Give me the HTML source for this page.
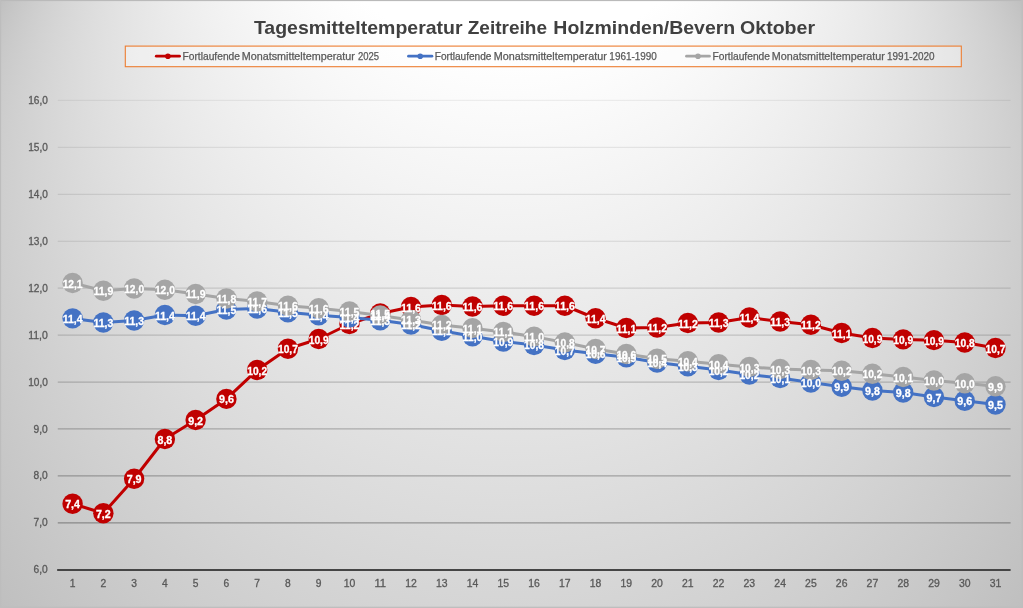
<!DOCTYPE html>
<html lang="de"><head><meta charset="utf-8"><title>Tagesmitteltemperatur Zeitreihe Holzminden/Bevern Oktober</title>
<style>html,body{margin:0;padding:0;background:#d9d9d9;overflow:hidden}svg{display:block}text{font-family:"Liberation Sans",sans-serif}.ax{font-size:10.2px;fill:#595959;stroke:#595959;stroke-width:0.3px}.dl{font-size:10.3px;font-weight:bold;fill:#fff;stroke:#fff;stroke-width:0.3px;text-anchor:middle}.lg{font-size:10px;fill:#595959;stroke:#595959;stroke-width:0.25px}</style></head><body>
<svg width="1023" height="608" viewBox="0 0 1023 608">
<defs>
<radialGradient id="bgf" gradientUnits="objectBoundingBox" cx="0.5" cy="0.5" r="0.7071" fx="0.5" fy="0.0"><stop offset="0" stop-color="#ffffff"/><stop offset="0.2" stop-color="#fbfbfb"/><stop offset="0.45" stop-color="#eeeeee"/><stop offset="0.7" stop-color="#dadada"/><stop offset="1" stop-color="#bfbfbf"/></radialGradient>
<radialGradient id="bg" gradientUnits="userSpaceOnUse" cx="511.5" cy="-486.4" r="0.001" fx="511.5" fy="304" fr="595"><stop offset="0" stop-color="#bfbfbf"/><stop offset="0.61" stop-color="#ffffff"/><stop offset="1" stop-color="#ffffff"/></radialGradient>
<filter id="aa" filterUnits="userSpaceOnUse" x="0" y="0" width="1023" height="608" color-interpolation-filters="sRGB"><feOffset dx="0" dy="0"/></filter>
</defs>
<rect x="0" y="0" width="1023" height="608" fill="url(#bgf)"/>
<rect x="0" y="0" width="1023" height="608" fill="url(#bg)"/>
<rect x="0" y="0" width="1023" height="1.1" fill="#bababa"/><rect x="0" y="0" width="1.1" height="608" fill="#bdbdbd"/><rect x="1021.4" y="0" width="1.6" height="608" fill="#bebebe"/><rect x="0" y="606.7" width="1023" height="1.3" fill="#bebebe"/>
<g filter="url(#aa)">
<line x1="57.75" y1="100.45" x2="1010.60" y2="100.45" stroke="#000" stroke-opacity="0.060" stroke-width="1.2"/>
<line x1="57.75" y1="147.38" x2="1010.60" y2="147.38" stroke="#000" stroke-opacity="0.075" stroke-width="1.2"/>
<line x1="57.75" y1="194.31" x2="1010.60" y2="194.31" stroke="#000" stroke-opacity="0.090" stroke-width="1.2"/>
<line x1="57.75" y1="241.24" x2="1010.60" y2="241.24" stroke="#000" stroke-opacity="0.110" stroke-width="1.2"/>
<line x1="57.75" y1="288.17" x2="1010.60" y2="288.17" stroke="#000" stroke-opacity="0.130" stroke-width="1.2"/>
<line x1="57.75" y1="335.10" x2="1010.60" y2="335.10" stroke="#000" stroke-opacity="0.160" stroke-width="1.2"/>
<line x1="57.75" y1="382.03" x2="1010.60" y2="382.03" stroke="#000" stroke-opacity="0.195" stroke-width="1.2"/>
<line x1="57.75" y1="428.96" x2="1010.60" y2="428.96" stroke="#000" stroke-opacity="0.235" stroke-width="1.2"/>
<line x1="57.75" y1="475.89" x2="1010.60" y2="475.89" stroke="#000" stroke-opacity="0.280" stroke-width="1.2"/>
<line x1="57.75" y1="522.82" x2="1010.60" y2="522.82" stroke="#000" stroke-opacity="0.325" stroke-width="1.2"/>
<line x1="57.15" y1="569.90" x2="1010.60" y2="569.90" stroke="#454545" stroke-width="2.0"/>
<text class="ax" x="47.8" y="104.05" text-anchor="end" textLength="19.60" lengthAdjust="spacingAndGlyphs">16,0</text>
<text class="ax" x="47.8" y="150.98" text-anchor="end" textLength="19.60" lengthAdjust="spacingAndGlyphs">15,0</text>
<text class="ax" x="47.8" y="197.91" text-anchor="end" textLength="19.60" lengthAdjust="spacingAndGlyphs">14,0</text>
<text class="ax" x="47.8" y="244.84" text-anchor="end" textLength="19.60" lengthAdjust="spacingAndGlyphs">13,0</text>
<text class="ax" x="47.8" y="291.77" text-anchor="end" textLength="19.60" lengthAdjust="spacingAndGlyphs">12,0</text>
<text class="ax" x="47.8" y="338.70" text-anchor="end" textLength="19.60" lengthAdjust="spacingAndGlyphs">11,0</text>
<text class="ax" x="47.8" y="385.63" text-anchor="end" textLength="19.60" lengthAdjust="spacingAndGlyphs">10,0</text>
<text class="ax" x="47.8" y="432.56" text-anchor="end" textLength="14.20" lengthAdjust="spacingAndGlyphs">9,0</text>
<text class="ax" x="47.8" y="479.49" text-anchor="end" textLength="14.20" lengthAdjust="spacingAndGlyphs">8,0</text>
<text class="ax" x="47.8" y="526.42" text-anchor="end" textLength="14.20" lengthAdjust="spacingAndGlyphs">7,0</text>
<text class="ax" x="47.8" y="573.35" text-anchor="end" textLength="14.20" lengthAdjust="spacingAndGlyphs">6,0</text>
<text class="ax" x="72.60" y="587.2" text-anchor="middle" textLength="5.70" lengthAdjust="spacingAndGlyphs">1</text>
<text class="ax" x="103.36" y="587.2" text-anchor="middle" textLength="5.70" lengthAdjust="spacingAndGlyphs">2</text>
<text class="ax" x="134.13" y="587.2" text-anchor="middle" textLength="5.70" lengthAdjust="spacingAndGlyphs">3</text>
<text class="ax" x="164.89" y="587.2" text-anchor="middle" textLength="5.70" lengthAdjust="spacingAndGlyphs">4</text>
<text class="ax" x="195.65" y="587.2" text-anchor="middle" textLength="5.70" lengthAdjust="spacingAndGlyphs">5</text>
<text class="ax" x="226.41" y="587.2" text-anchor="middle" textLength="5.70" lengthAdjust="spacingAndGlyphs">6</text>
<text class="ax" x="257.18" y="587.2" text-anchor="middle" textLength="5.70" lengthAdjust="spacingAndGlyphs">7</text>
<text class="ax" x="287.94" y="587.2" text-anchor="middle" textLength="5.70" lengthAdjust="spacingAndGlyphs">8</text>
<text class="ax" x="318.70" y="587.2" text-anchor="middle" textLength="5.70" lengthAdjust="spacingAndGlyphs">9</text>
<text class="ax" x="349.47" y="587.2" text-anchor="middle" textLength="11.60" lengthAdjust="spacingAndGlyphs">10</text>
<text class="ax" x="380.23" y="587.2" text-anchor="middle" textLength="11.60" lengthAdjust="spacingAndGlyphs">11</text>
<text class="ax" x="410.99" y="587.2" text-anchor="middle" textLength="11.60" lengthAdjust="spacingAndGlyphs">12</text>
<text class="ax" x="441.76" y="587.2" text-anchor="middle" textLength="11.60" lengthAdjust="spacingAndGlyphs">13</text>
<text class="ax" x="472.52" y="587.2" text-anchor="middle" textLength="11.60" lengthAdjust="spacingAndGlyphs">14</text>
<text class="ax" x="503.28" y="587.2" text-anchor="middle" textLength="11.60" lengthAdjust="spacingAndGlyphs">15</text>
<text class="ax" x="534.05" y="587.2" text-anchor="middle" textLength="11.60" lengthAdjust="spacingAndGlyphs">16</text>
<text class="ax" x="564.81" y="587.2" text-anchor="middle" textLength="11.60" lengthAdjust="spacingAndGlyphs">17</text>
<text class="ax" x="595.57" y="587.2" text-anchor="middle" textLength="11.60" lengthAdjust="spacingAndGlyphs">18</text>
<text class="ax" x="626.33" y="587.2" text-anchor="middle" textLength="11.60" lengthAdjust="spacingAndGlyphs">19</text>
<text class="ax" x="657.10" y="587.2" text-anchor="middle" textLength="11.60" lengthAdjust="spacingAndGlyphs">20</text>
<text class="ax" x="687.86" y="587.2" text-anchor="middle" textLength="11.60" lengthAdjust="spacingAndGlyphs">21</text>
<text class="ax" x="718.62" y="587.2" text-anchor="middle" textLength="11.60" lengthAdjust="spacingAndGlyphs">22</text>
<text class="ax" x="749.39" y="587.2" text-anchor="middle" textLength="11.60" lengthAdjust="spacingAndGlyphs">23</text>
<text class="ax" x="780.15" y="587.2" text-anchor="middle" textLength="11.60" lengthAdjust="spacingAndGlyphs">24</text>
<text class="ax" x="810.91" y="587.2" text-anchor="middle" textLength="11.60" lengthAdjust="spacingAndGlyphs">25</text>
<text class="ax" x="841.68" y="587.2" text-anchor="middle" textLength="11.60" lengthAdjust="spacingAndGlyphs">26</text>
<text class="ax" x="872.44" y="587.2" text-anchor="middle" textLength="11.60" lengthAdjust="spacingAndGlyphs">27</text>
<text class="ax" x="903.20" y="587.2" text-anchor="middle" textLength="11.60" lengthAdjust="spacingAndGlyphs">28</text>
<text class="ax" x="933.96" y="587.2" text-anchor="middle" textLength="11.60" lengthAdjust="spacingAndGlyphs">29</text>
<text class="ax" x="964.73" y="587.2" text-anchor="middle" textLength="11.60" lengthAdjust="spacingAndGlyphs">30</text>
<text class="ax" x="995.49" y="587.2" text-anchor="middle" textLength="11.60" lengthAdjust="spacingAndGlyphs">31</text>
<text x="253.91" y="34.0" font-size="18.6" font-weight="bold" fill="#404040" textLength="208.66" lengthAdjust="spacingAndGlyphs">Tagesmitteltemperatur</text>
<text x="467.70" y="34.0" font-size="18.6" font-weight="bold" fill="#404040" textLength="79.29" lengthAdjust="spacingAndGlyphs">Zeitreihe</text>
<text x="553.39" y="34.0" font-size="18.6" font-weight="bold" fill="#404040" textLength="181.89" lengthAdjust="spacingAndGlyphs">Holzminden/Bevern</text>
<text x="740.11" y="34.0" font-size="18.6" font-weight="bold" fill="#404040" textLength="74.93" lengthAdjust="spacingAndGlyphs">Oktober</text>
<rect x="125.3" y="46.1" width="836" height="20.6" fill="#ffffff" fill-opacity="0.35" stroke="#ED7D31" stroke-width="1.1"/>
<line x1="156.3" y1="56.2" x2="179.5" y2="56.2" stroke="#C00000" stroke-width="2.8" stroke-linecap="round"/>
<circle cx="167.9" cy="56.2" r="2.8" fill="#C00000"/>
<line x1="408.5" y1="56.2" x2="431.9" y2="56.2" stroke="#4472C4" stroke-width="2.8" stroke-linecap="round"/>
<circle cx="420.2" cy="56.2" r="2.8" fill="#4472C4"/>
<line x1="686.5" y1="56.2" x2="709.4" y2="56.2" stroke="#A5A5A5" stroke-width="2.8" stroke-linecap="round"/>
<circle cx="698.0" cy="56.2" r="2.8" fill="#A5A5A5"/>
<text class="lg" x="182.50" y="59.7" textLength="57.47" lengthAdjust="spacingAndGlyphs">Fortlaufende</text>
<text class="lg" x="241.78" y="59.7" textLength="113.01" lengthAdjust="spacingAndGlyphs">Monatsmitteltemperatur</text>
<text class="lg" x="357.89" y="59.7" textLength="21.05" lengthAdjust="spacingAndGlyphs">2025</text>
<text class="lg" x="434.78" y="59.7" textLength="56.66" lengthAdjust="spacingAndGlyphs">Fortlaufende</text>
<text class="lg" x="493.76" y="59.7" textLength="113.00" lengthAdjust="spacingAndGlyphs">Monatsmitteltemperatur</text>
<text class="lg" x="609.37" y="59.7" textLength="47.49" lengthAdjust="spacingAndGlyphs">1961-1990</text>
<text class="lg" x="712.50" y="59.7" textLength="57.47" lengthAdjust="spacingAndGlyphs">Fortlaufende</text>
<text class="lg" x="771.78" y="59.7" textLength="113.01" lengthAdjust="spacingAndGlyphs">Monatsmitteltemperatur</text>
<text class="lg" x="887.09" y="59.7" textLength="47.49" lengthAdjust="spacingAndGlyphs">1991-2020</text>
<polyline points="72.60,503.80 103.36,513.20 134.13,478.75 164.89,439.00 195.65,420.00 226.41,398.90 257.18,370.00 287.94,348.75 318.70,339.00 349.47,324.00 380.23,313.50 410.99,307.00 441.76,305.00 472.52,306.50 503.28,305.75 534.05,305.75 564.81,305.75 595.57,318.25 626.33,328.00 657.10,327.50 687.86,323.00 718.62,322.50 749.39,317.50 780.15,321.50 810.91,324.70 841.68,333.00 872.44,338.00 903.20,339.40 933.96,340.15 964.73,342.50 995.49,348.00" fill="none" stroke="#C00000" stroke-width="3" stroke-linejoin="round" stroke-linecap="round"/>
<circle cx="72.60" cy="503.80" r="10.2" fill="#C00000"/>
<circle cx="103.36" cy="513.20" r="10.2" fill="#C00000"/>
<circle cx="134.13" cy="478.75" r="10.2" fill="#C00000"/>
<circle cx="164.89" cy="439.00" r="10.2" fill="#C00000"/>
<circle cx="195.65" cy="420.00" r="10.2" fill="#C00000"/>
<circle cx="226.41" cy="398.90" r="10.2" fill="#C00000"/>
<circle cx="257.18" cy="370.00" r="10.2" fill="#C00000"/>
<circle cx="287.94" cy="348.75" r="10.2" fill="#C00000"/>
<circle cx="318.70" cy="339.00" r="10.2" fill="#C00000"/>
<circle cx="349.47" cy="324.00" r="10.2" fill="#C00000"/>
<circle cx="380.23" cy="313.50" r="10.2" fill="#C00000"/>
<circle cx="410.99" cy="307.00" r="10.2" fill="#C00000"/>
<circle cx="441.76" cy="305.00" r="10.2" fill="#C00000"/>
<circle cx="472.52" cy="306.50" r="10.2" fill="#C00000"/>
<circle cx="503.28" cy="305.75" r="10.2" fill="#C00000"/>
<circle cx="534.05" cy="305.75" r="10.2" fill="#C00000"/>
<circle cx="564.81" cy="305.75" r="10.2" fill="#C00000"/>
<circle cx="595.57" cy="318.25" r="10.2" fill="#C00000"/>
<circle cx="626.33" cy="328.00" r="10.2" fill="#C00000"/>
<circle cx="657.10" cy="327.50" r="10.2" fill="#C00000"/>
<circle cx="687.86" cy="323.00" r="10.2" fill="#C00000"/>
<circle cx="718.62" cy="322.50" r="10.2" fill="#C00000"/>
<circle cx="749.39" cy="317.50" r="10.2" fill="#C00000"/>
<circle cx="780.15" cy="321.50" r="10.2" fill="#C00000"/>
<circle cx="810.91" cy="324.70" r="10.2" fill="#C00000"/>
<circle cx="841.68" cy="333.00" r="10.2" fill="#C00000"/>
<circle cx="872.44" cy="338.00" r="10.2" fill="#C00000"/>
<circle cx="903.20" cy="339.40" r="10.2" fill="#C00000"/>
<circle cx="933.96" cy="340.15" r="10.2" fill="#C00000"/>
<circle cx="964.73" cy="342.50" r="10.2" fill="#C00000"/>
<circle cx="995.49" cy="348.00" r="10.2" fill="#C00000"/>
<polyline points="72.60,318.40 103.36,322.50 134.13,320.50 164.89,315.00 195.65,315.75 226.41,309.50 257.18,308.55 287.94,312.30 318.70,315.35 349.47,317.50 380.23,320.25 410.99,324.50 441.76,330.75 472.52,336.25 503.28,341.50 534.05,344.95 564.81,350.10 595.57,353.75 626.33,357.20 657.10,362.50 687.86,366.25 718.62,370.00 749.39,374.50 780.15,378.10 810.91,382.50 841.68,386.75 872.44,390.50 903.20,392.50 933.96,397.00 964.73,400.75 995.49,404.50" fill="none" stroke="#4472C4" stroke-width="3" stroke-linejoin="round" stroke-linecap="round"/>
<circle cx="72.60" cy="318.40" r="10.2" fill="#4472C4"/>
<circle cx="103.36" cy="322.50" r="10.2" fill="#4472C4"/>
<circle cx="134.13" cy="320.50" r="10.2" fill="#4472C4"/>
<circle cx="164.89" cy="315.00" r="10.2" fill="#4472C4"/>
<circle cx="195.65" cy="315.75" r="10.2" fill="#4472C4"/>
<circle cx="226.41" cy="309.50" r="10.2" fill="#4472C4"/>
<circle cx="257.18" cy="308.55" r="10.2" fill="#4472C4"/>
<circle cx="287.94" cy="312.30" r="10.2" fill="#4472C4"/>
<circle cx="318.70" cy="315.35" r="10.2" fill="#4472C4"/>
<circle cx="349.47" cy="317.50" r="10.2" fill="#4472C4"/>
<circle cx="380.23" cy="320.25" r="10.2" fill="#4472C4"/>
<circle cx="410.99" cy="324.50" r="10.2" fill="#4472C4"/>
<circle cx="441.76" cy="330.75" r="10.2" fill="#4472C4"/>
<circle cx="472.52" cy="336.25" r="10.2" fill="#4472C4"/>
<circle cx="503.28" cy="341.50" r="10.2" fill="#4472C4"/>
<circle cx="534.05" cy="344.95" r="10.2" fill="#4472C4"/>
<circle cx="564.81" cy="350.10" r="10.2" fill="#4472C4"/>
<circle cx="595.57" cy="353.75" r="10.2" fill="#4472C4"/>
<circle cx="626.33" cy="357.20" r="10.2" fill="#4472C4"/>
<circle cx="657.10" cy="362.50" r="10.2" fill="#4472C4"/>
<circle cx="687.86" cy="366.25" r="10.2" fill="#4472C4"/>
<circle cx="718.62" cy="370.00" r="10.2" fill="#4472C4"/>
<circle cx="749.39" cy="374.50" r="10.2" fill="#4472C4"/>
<circle cx="780.15" cy="378.10" r="10.2" fill="#4472C4"/>
<circle cx="810.91" cy="382.50" r="10.2" fill="#4472C4"/>
<circle cx="841.68" cy="386.75" r="10.2" fill="#4472C4"/>
<circle cx="872.44" cy="390.50" r="10.2" fill="#4472C4"/>
<circle cx="903.20" cy="392.50" r="10.2" fill="#4472C4"/>
<circle cx="933.96" cy="397.00" r="10.2" fill="#4472C4"/>
<circle cx="964.73" cy="400.75" r="10.2" fill="#4472C4"/>
<circle cx="995.49" cy="404.50" r="10.2" fill="#4472C4"/>
<polyline points="72.60,283.00 103.36,290.70 134.13,288.45 164.89,289.70 195.65,293.95 226.41,298.45 257.18,301.45 287.94,305.70 318.70,308.20 349.47,311.55 380.23,315.40 410.99,319.90 441.76,324.90 472.52,328.15 503.28,331.90 534.05,336.65 564.81,342.50 595.57,349.05 626.33,354.05 657.10,358.75 687.86,361.25 718.62,364.25 749.39,367.00 780.15,369.00 810.91,370.00 841.68,370.75 872.44,373.75 903.20,377.00 933.96,380.50 964.73,383.25 995.49,386.25" fill="none" stroke="#A5A5A5" stroke-width="3" stroke-linejoin="round" stroke-linecap="round"/>
<circle cx="72.60" cy="283.00" r="10.2" fill="#A5A5A5"/>
<circle cx="103.36" cy="290.70" r="10.2" fill="#A5A5A5"/>
<circle cx="134.13" cy="288.45" r="10.2" fill="#A5A5A5"/>
<circle cx="164.89" cy="289.70" r="10.2" fill="#A5A5A5"/>
<circle cx="195.65" cy="293.95" r="10.2" fill="#A5A5A5"/>
<circle cx="226.41" cy="298.45" r="10.2" fill="#A5A5A5"/>
<circle cx="257.18" cy="301.45" r="10.2" fill="#A5A5A5"/>
<circle cx="287.94" cy="305.70" r="10.2" fill="#A5A5A5"/>
<circle cx="318.70" cy="308.20" r="10.2" fill="#A5A5A5"/>
<circle cx="349.47" cy="311.55" r="10.2" fill="#A5A5A5"/>
<circle cx="380.23" cy="315.40" r="10.2" fill="#A5A5A5"/>
<circle cx="410.99" cy="319.90" r="10.2" fill="#A5A5A5"/>
<circle cx="441.76" cy="324.90" r="10.2" fill="#A5A5A5"/>
<circle cx="472.52" cy="328.15" r="10.2" fill="#A5A5A5"/>
<circle cx="503.28" cy="331.90" r="10.2" fill="#A5A5A5"/>
<circle cx="534.05" cy="336.65" r="10.2" fill="#A5A5A5"/>
<circle cx="564.81" cy="342.50" r="10.2" fill="#A5A5A5"/>
<circle cx="595.57" cy="349.05" r="10.2" fill="#A5A5A5"/>
<circle cx="626.33" cy="354.05" r="10.2" fill="#A5A5A5"/>
<circle cx="657.10" cy="358.75" r="10.2" fill="#A5A5A5"/>
<circle cx="687.86" cy="361.25" r="10.2" fill="#A5A5A5"/>
<circle cx="718.62" cy="364.25" r="10.2" fill="#A5A5A5"/>
<circle cx="749.39" cy="367.00" r="10.2" fill="#A5A5A5"/>
<circle cx="780.15" cy="369.00" r="10.2" fill="#A5A5A5"/>
<circle cx="810.91" cy="370.00" r="10.2" fill="#A5A5A5"/>
<circle cx="841.68" cy="370.75" r="10.2" fill="#A5A5A5"/>
<circle cx="872.44" cy="373.75" r="10.2" fill="#A5A5A5"/>
<circle cx="903.20" cy="377.00" r="10.2" fill="#A5A5A5"/>
<circle cx="933.96" cy="380.50" r="10.2" fill="#A5A5A5"/>
<circle cx="964.73" cy="383.25" r="10.2" fill="#A5A5A5"/>
<circle cx="995.49" cy="386.25" r="10.2" fill="#A5A5A5"/>
<text class="dl" x="72.60" y="508.30" textLength="14.9" lengthAdjust="spacingAndGlyphs">7,4</text>
<text class="dl" x="103.36" y="517.70" textLength="14.9" lengthAdjust="spacingAndGlyphs">7,2</text>
<text class="dl" x="134.13" y="483.25" textLength="14.9" lengthAdjust="spacingAndGlyphs">7,9</text>
<text class="dl" x="164.89" y="443.50" textLength="14.9" lengthAdjust="spacingAndGlyphs">8,8</text>
<text class="dl" x="195.65" y="424.50" textLength="14.9" lengthAdjust="spacingAndGlyphs">9,2</text>
<text class="dl" x="226.41" y="403.40" textLength="14.9" lengthAdjust="spacingAndGlyphs">9,6</text>
<text class="dl" x="257.18" y="374.50" textLength="19.9" lengthAdjust="spacingAndGlyphs">10,2</text>
<text class="dl" x="287.94" y="353.25" textLength="19.9" lengthAdjust="spacingAndGlyphs">10,7</text>
<text class="dl" x="318.70" y="343.50" textLength="19.9" lengthAdjust="spacingAndGlyphs">10,9</text>
<text class="dl" x="349.47" y="328.50" textLength="19.9" lengthAdjust="spacingAndGlyphs">11,2</text>
<text class="dl" x="380.23" y="318.00" textLength="19.9" lengthAdjust="spacingAndGlyphs">11,5</text>
<text class="dl" x="410.99" y="311.50" textLength="19.9" lengthAdjust="spacingAndGlyphs">11,6</text>
<text class="dl" x="441.76" y="309.50" textLength="19.9" lengthAdjust="spacingAndGlyphs">11,6</text>
<text class="dl" x="472.52" y="311.00" textLength="19.9" lengthAdjust="spacingAndGlyphs">11,6</text>
<text class="dl" x="503.28" y="310.25" textLength="19.9" lengthAdjust="spacingAndGlyphs">11,6</text>
<text class="dl" x="534.05" y="310.25" textLength="19.9" lengthAdjust="spacingAndGlyphs">11,6</text>
<text class="dl" x="564.81" y="310.25" textLength="19.9" lengthAdjust="spacingAndGlyphs">11,6</text>
<text class="dl" x="595.57" y="322.75" textLength="19.9" lengthAdjust="spacingAndGlyphs">11,4</text>
<text class="dl" x="626.33" y="332.50" textLength="19.9" lengthAdjust="spacingAndGlyphs">11,1</text>
<text class="dl" x="657.10" y="332.00" textLength="19.9" lengthAdjust="spacingAndGlyphs">11,2</text>
<text class="dl" x="687.86" y="327.50" textLength="19.9" lengthAdjust="spacingAndGlyphs">11,2</text>
<text class="dl" x="718.62" y="327.00" textLength="19.9" lengthAdjust="spacingAndGlyphs">11,3</text>
<text class="dl" x="749.39" y="322.00" textLength="19.9" lengthAdjust="spacingAndGlyphs">11,4</text>
<text class="dl" x="780.15" y="326.00" textLength="19.9" lengthAdjust="spacingAndGlyphs">11,3</text>
<text class="dl" x="810.91" y="329.20" textLength="19.9" lengthAdjust="spacingAndGlyphs">11,2</text>
<text class="dl" x="841.68" y="337.50" textLength="19.9" lengthAdjust="spacingAndGlyphs">11,1</text>
<text class="dl" x="872.44" y="342.50" textLength="19.9" lengthAdjust="spacingAndGlyphs">10,9</text>
<text class="dl" x="903.20" y="343.90" textLength="19.9" lengthAdjust="spacingAndGlyphs">10,9</text>
<text class="dl" x="933.96" y="344.65" textLength="19.9" lengthAdjust="spacingAndGlyphs">10,9</text>
<text class="dl" x="964.73" y="347.00" textLength="19.9" lengthAdjust="spacingAndGlyphs">10,8</text>
<text class="dl" x="995.49" y="352.50" textLength="19.9" lengthAdjust="spacingAndGlyphs">10,7</text>
<text class="dl" x="72.60" y="322.90" textLength="19.9" lengthAdjust="spacingAndGlyphs">11,4</text>
<text class="dl" x="103.36" y="327.00" textLength="19.9" lengthAdjust="spacingAndGlyphs">11,3</text>
<text class="dl" x="134.13" y="325.00" textLength="19.9" lengthAdjust="spacingAndGlyphs">11,3</text>
<text class="dl" x="164.89" y="319.50" textLength="19.9" lengthAdjust="spacingAndGlyphs">11,4</text>
<text class="dl" x="195.65" y="320.25" textLength="19.9" lengthAdjust="spacingAndGlyphs">11,4</text>
<text class="dl" x="226.41" y="314.00" textLength="19.9" lengthAdjust="spacingAndGlyphs">11,5</text>
<text class="dl" x="257.18" y="313.05" textLength="19.9" lengthAdjust="spacingAndGlyphs">11,6</text>
<text class="dl" x="287.94" y="316.80" textLength="19.9" lengthAdjust="spacingAndGlyphs">11,5</text>
<text class="dl" x="318.70" y="319.85" textLength="19.9" lengthAdjust="spacingAndGlyphs">11,4</text>
<text class="dl" x="349.47" y="322.00" textLength="19.9" lengthAdjust="spacingAndGlyphs">11,4</text>
<text class="dl" x="380.23" y="324.75" textLength="19.9" lengthAdjust="spacingAndGlyphs">11,3</text>
<text class="dl" x="410.99" y="329.00" textLength="19.9" lengthAdjust="spacingAndGlyphs">11,2</text>
<text class="dl" x="441.76" y="335.25" textLength="19.9" lengthAdjust="spacingAndGlyphs">11,1</text>
<text class="dl" x="472.52" y="340.75" textLength="19.9" lengthAdjust="spacingAndGlyphs">11,0</text>
<text class="dl" x="503.28" y="346.00" textLength="19.9" lengthAdjust="spacingAndGlyphs">10,9</text>
<text class="dl" x="534.05" y="349.45" textLength="19.9" lengthAdjust="spacingAndGlyphs">10,8</text>
<text class="dl" x="564.81" y="354.60" textLength="19.9" lengthAdjust="spacingAndGlyphs">10,7</text>
<text class="dl" x="595.57" y="358.25" textLength="19.9" lengthAdjust="spacingAndGlyphs">10,6</text>
<text class="dl" x="626.33" y="361.70" textLength="19.9" lengthAdjust="spacingAndGlyphs">10,5</text>
<text class="dl" x="657.10" y="367.00" textLength="19.9" lengthAdjust="spacingAndGlyphs">10,4</text>
<text class="dl" x="687.86" y="370.75" textLength="19.9" lengthAdjust="spacingAndGlyphs">10,3</text>
<text class="dl" x="718.62" y="374.50" textLength="19.9" lengthAdjust="spacingAndGlyphs">10,2</text>
<text class="dl" x="749.39" y="379.00" textLength="19.9" lengthAdjust="spacingAndGlyphs">10,2</text>
<text class="dl" x="780.15" y="382.60" textLength="19.9" lengthAdjust="spacingAndGlyphs">10,1</text>
<text class="dl" x="810.91" y="387.00" textLength="19.9" lengthAdjust="spacingAndGlyphs">10,0</text>
<text class="dl" x="841.68" y="391.25" textLength="14.9" lengthAdjust="spacingAndGlyphs">9,9</text>
<text class="dl" x="872.44" y="395.00" textLength="14.9" lengthAdjust="spacingAndGlyphs">9,8</text>
<text class="dl" x="903.20" y="397.00" textLength="14.9" lengthAdjust="spacingAndGlyphs">9,8</text>
<text class="dl" x="933.96" y="401.50" textLength="14.9" lengthAdjust="spacingAndGlyphs">9,7</text>
<text class="dl" x="964.73" y="405.25" textLength="14.9" lengthAdjust="spacingAndGlyphs">9,6</text>
<text class="dl" x="995.49" y="409.00" textLength="14.9" lengthAdjust="spacingAndGlyphs">9,5</text>
<text class="dl" x="72.60" y="287.50" textLength="19.9" lengthAdjust="spacingAndGlyphs">12,1</text>
<text class="dl" x="103.36" y="295.20" textLength="19.9" lengthAdjust="spacingAndGlyphs">11,9</text>
<text class="dl" x="134.13" y="292.95" textLength="19.9" lengthAdjust="spacingAndGlyphs">12,0</text>
<text class="dl" x="164.89" y="294.20" textLength="19.9" lengthAdjust="spacingAndGlyphs">12,0</text>
<text class="dl" x="195.65" y="298.45" textLength="19.9" lengthAdjust="spacingAndGlyphs">11,9</text>
<text class="dl" x="226.41" y="302.95" textLength="19.9" lengthAdjust="spacingAndGlyphs">11,8</text>
<text class="dl" x="257.18" y="305.95" textLength="19.9" lengthAdjust="spacingAndGlyphs">11,7</text>
<text class="dl" x="287.94" y="310.20" textLength="19.9" lengthAdjust="spacingAndGlyphs">11,6</text>
<text class="dl" x="318.70" y="312.70" textLength="19.9" lengthAdjust="spacingAndGlyphs">11,6</text>
<text class="dl" x="349.47" y="316.05" textLength="19.9" lengthAdjust="spacingAndGlyphs">11,5</text>
<text class="dl" x="380.23" y="319.90" textLength="19.9" lengthAdjust="spacingAndGlyphs">11,4</text>
<text class="dl" x="410.99" y="324.40" textLength="19.9" lengthAdjust="spacingAndGlyphs">11,3</text>
<text class="dl" x="441.76" y="329.40" textLength="19.9" lengthAdjust="spacingAndGlyphs">11,2</text>
<text class="dl" x="472.52" y="332.65" textLength="19.9" lengthAdjust="spacingAndGlyphs">11,1</text>
<text class="dl" x="503.28" y="336.40" textLength="19.9" lengthAdjust="spacingAndGlyphs">11,1</text>
<text class="dl" x="534.05" y="341.15" textLength="19.9" lengthAdjust="spacingAndGlyphs">11,0</text>
<text class="dl" x="564.81" y="347.00" textLength="19.9" lengthAdjust="spacingAndGlyphs">10,8</text>
<text class="dl" x="595.57" y="353.55" textLength="19.9" lengthAdjust="spacingAndGlyphs">10,7</text>
<text class="dl" x="626.33" y="358.55" textLength="19.9" lengthAdjust="spacingAndGlyphs">10,6</text>
<text class="dl" x="657.10" y="363.25" textLength="19.9" lengthAdjust="spacingAndGlyphs">10,5</text>
<text class="dl" x="687.86" y="365.75" textLength="19.9" lengthAdjust="spacingAndGlyphs">10,4</text>
<text class="dl" x="718.62" y="368.75" textLength="19.9" lengthAdjust="spacingAndGlyphs">10,4</text>
<text class="dl" x="749.39" y="371.50" textLength="19.9" lengthAdjust="spacingAndGlyphs">10,3</text>
<text class="dl" x="780.15" y="373.50" textLength="19.9" lengthAdjust="spacingAndGlyphs">10,3</text>
<text class="dl" x="810.91" y="374.50" textLength="19.9" lengthAdjust="spacingAndGlyphs">10,3</text>
<text class="dl" x="841.68" y="375.25" textLength="19.9" lengthAdjust="spacingAndGlyphs">10,2</text>
<text class="dl" x="872.44" y="378.25" textLength="19.9" lengthAdjust="spacingAndGlyphs">10,2</text>
<text class="dl" x="903.20" y="381.50" textLength="19.9" lengthAdjust="spacingAndGlyphs">10,1</text>
<text class="dl" x="933.96" y="385.00" textLength="19.9" lengthAdjust="spacingAndGlyphs">10,0</text>
<text class="dl" x="964.73" y="387.75" textLength="19.9" lengthAdjust="spacingAndGlyphs">10,0</text>
<text class="dl" x="995.49" y="390.75" textLength="14.9" lengthAdjust="spacingAndGlyphs">9,9</text>
</g>
</svg></body></html>
